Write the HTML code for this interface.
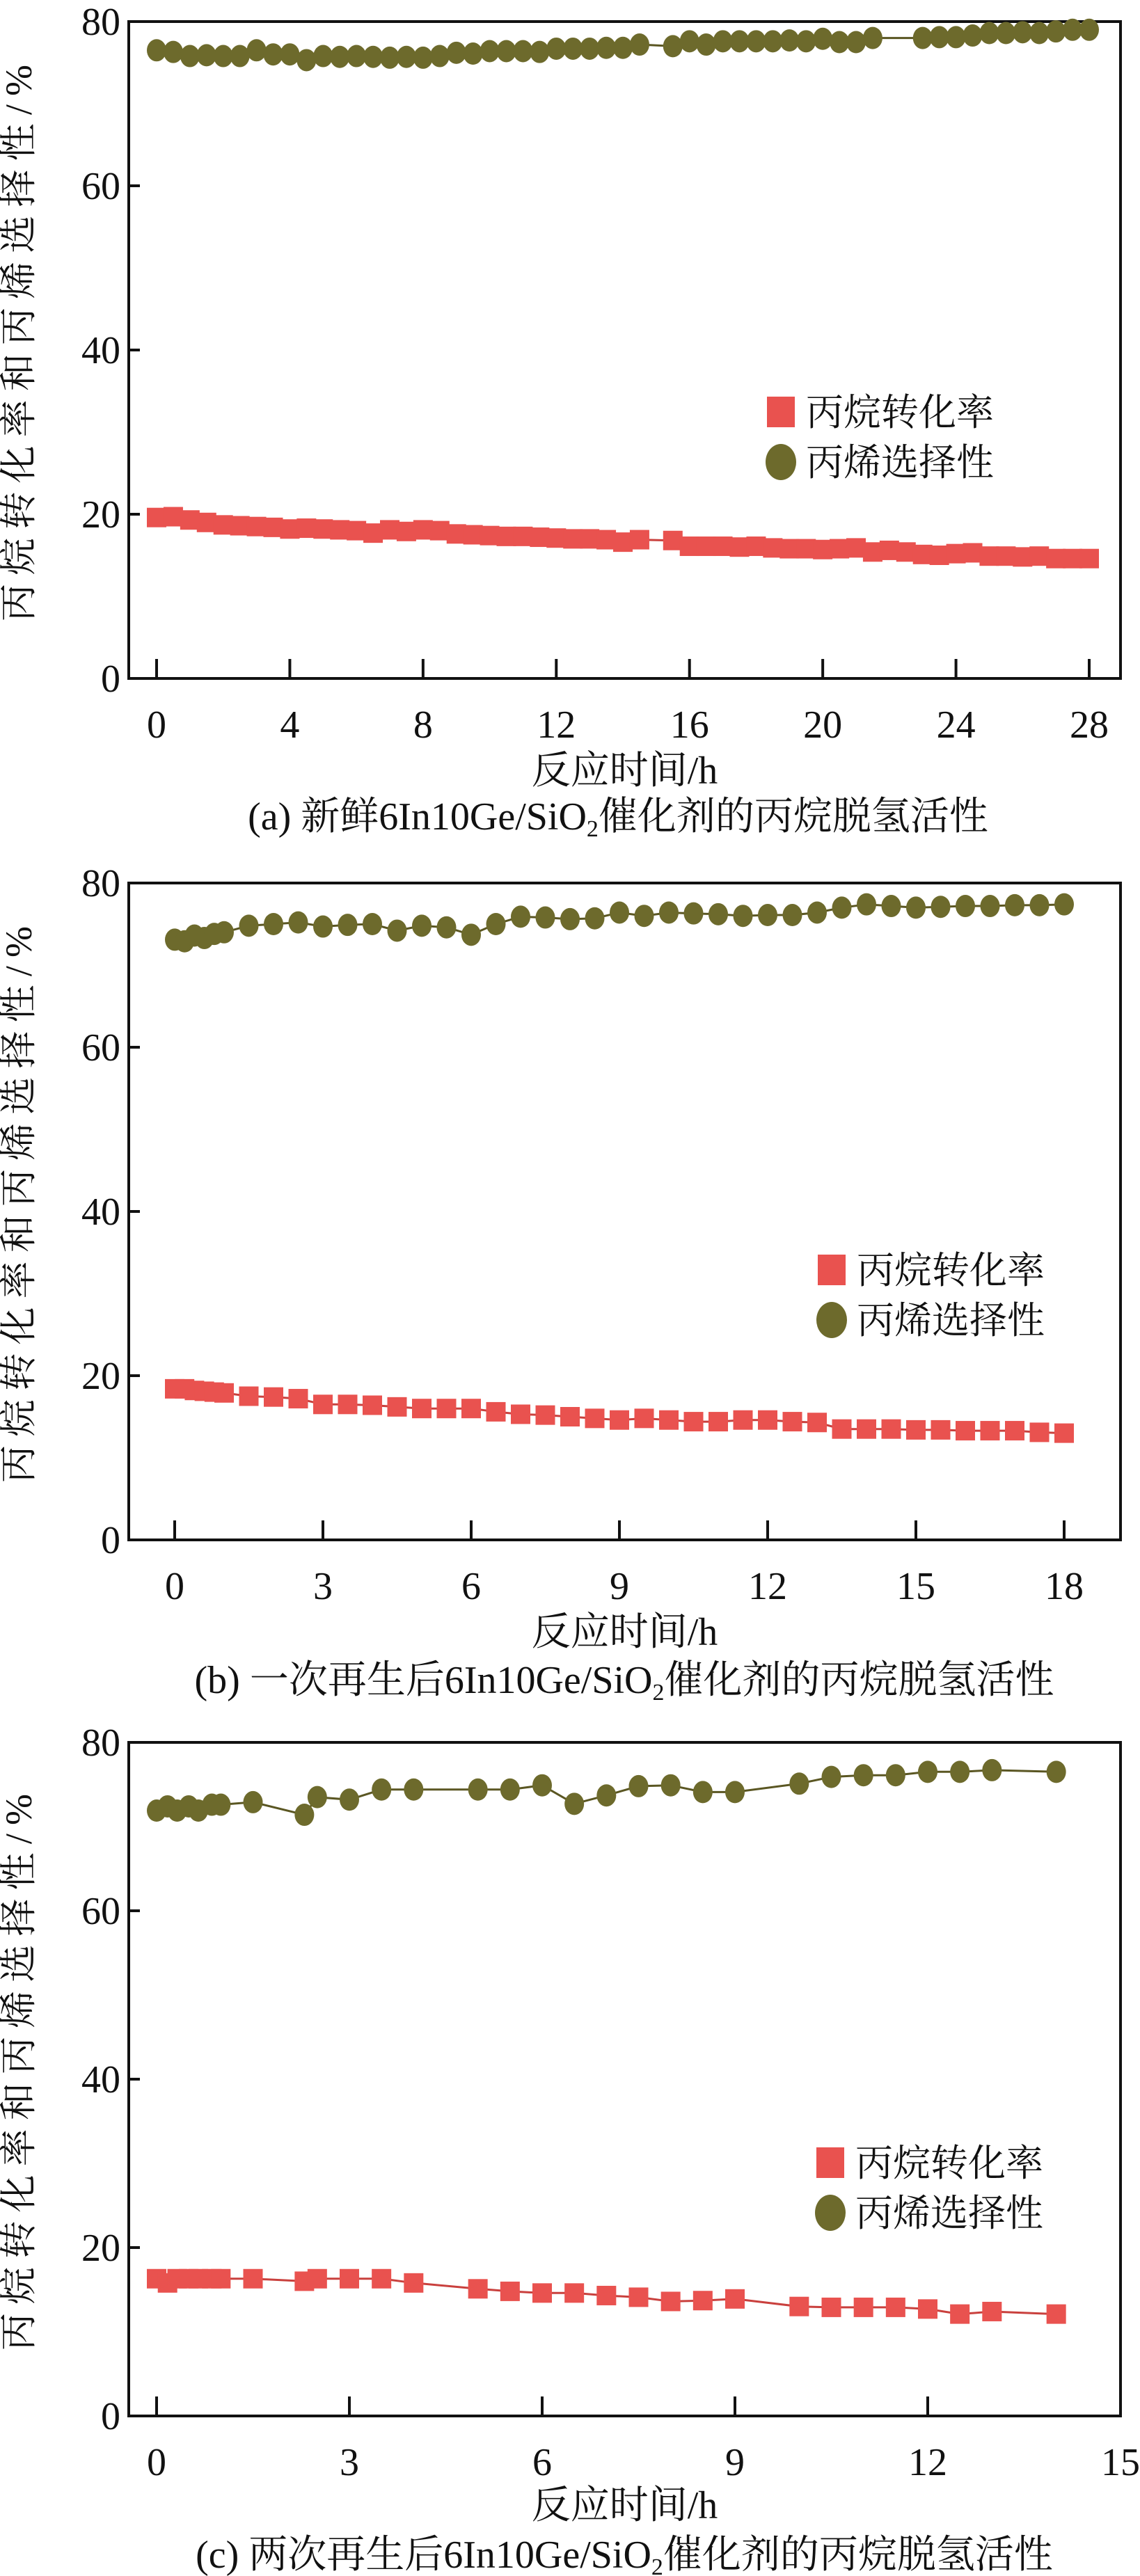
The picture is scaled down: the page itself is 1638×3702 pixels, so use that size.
<!DOCTYPE html>
<html><head><meta charset="utf-8"><style>
html,body{margin:0;padding:0;background:#fff;}
svg{display:block;}
text{font-family:"Liberation Serif","Noto Serif CJK SC",serif;fill:#111;}
</style></head>
<body>
<svg id="fig" width="1638" height="3702" viewBox="0 0 1638 3702" xmlns="http://www.w3.org/2000/svg"></svg>
<script>
// ---- Panel (a) data ----
const aTimeConv = [0,0.5,1,1.5,2,2.5,3,3.5,4,4.5,5,5.5,6,6.5,7,7.5,8,8.5,9,9.5,10,10.5,11,11.5,12,12.5,13,13.5,14,14.5,15.5,16,16.5,17,17.5,18,18.5,19,19.5,20,20.5,21,21.5,22,22.5,23,23.5,24,24.5,25,25.5,26,26.5,27,27.5,28];
const aConv = [19.6,19.7,19.3,19.0,18.7,18.6,18.5,18.4,18.2,18.3,18.2,18.1,18.0,17.7,18.1,17.9,18.1,18.0,17.6,17.5,17.4,17.3,17.3,17.2,17.1,17.0,17.0,16.9,16.6,16.9,16.8,16.1,16.1,16.1,16.0,16.1,15.9,15.8,15.8,15.7,15.8,15.9,15.4,15.6,15.4,15.1,15.0,15.2,15.3,14.9,14.9,14.8,14.9,14.6,14.6,14.6];
const aTimeSel = [0,0.5,1,1.5,2,2.5,3,3.5,4,4.5,5,5.5,6,6.5,7,7.5,8,8.5,9,9.5,10,10.5,11,11.5,12,12.5,13,13.5,14,14.5,15.5,16,16.5,17,17.5,18,18.5,19,19.5,20,20.5,21,21.5,23,23.5,24,24.5,25,25.5,26,26.5,27,27.5,28];
const aSel = [76.5,76.3,75.8,75.9,75.8,75.8,76.5,76.0,76.0,75.3,75.8,75.7,75.8,75.7,75.6,75.7,75.6,75.8,76.2,76.1,76.4,76.4,76.4,76.3,76.7,76.7,76.7,76.8,76.8,77.2,77.0,77.6,77.2,77.6,77.6,77.6,77.6,77.7,77.6,77.9,77.5,77.5,78.0,78.0,78.1,78.1,78.3,78.6,78.6,78.7,78.6,78.8,79.0,79.0];
const aXTicks = [0,4,8,12,16,20,24,28];
// ---- Panel (b) data ----
const bTime = [0,0.2,0.4,0.6,0.8,1,1.5,2,2.5,3,3.5,4,4.5,5,5.5,6,6.5,7,7.5,8,8.5,9,9.5,10,10.5,11,11.5,12,12.5,13,13.5,14,14.5,15,15.5,16,16.5,17,17.5,18];
const bConv = [18.4,18.4,18.2,18.1,18.0,17.9,17.5,17.4,17.2,16.5,16.5,16.4,16.2,16.0,16.0,16.0,15.6,15.3,15.2,15.0,14.8,14.6,14.8,14.6,14.4,14.4,14.6,14.6,14.4,14.3,13.5,13.5,13.5,13.4,13.4,13.3,13.3,13.3,13.1,13.0];
const bSel = [73.1,72.9,73.6,73.3,73.8,74.0,74.8,75.0,75.2,74.7,74.9,75.0,74.2,74.8,74.6,73.7,75.0,75.9,75.8,75.6,75.7,76.4,76.0,76.4,76.3,76.2,76.0,76.1,76.1,76.4,77.0,77.4,77.2,77.0,77.1,77.2,77.2,77.3,77.3,77.4];
const bXTicks = [0,3,6,9,12,15,18];
// ---- Panel (c) data ----
const cTime = [0,0.17,0.32,0.5,0.65,0.86,1.0,1.5,2.3,2.5,3,3.5,4,5,5.5,6,6.5,7,7.5,8,8.5,9,10,10.5,11,11.5,12,12.5,13,14];
const cConv = [16.3,15.8,16.3,16.3,16.3,16.3,16.3,16.3,16.0,16.3,16.3,16.3,15.8,15.1,14.8,14.6,14.6,14.3,14.1,13.6,13.7,13.9,13.0,12.9,12.9,12.9,12.7,12.1,12.4,12.1];
const cSel = [71.9,72.4,71.9,72.4,71.9,72.6,72.6,72.9,71.4,73.5,73.2,74.4,74.4,74.4,74.4,74.9,72.7,73.7,74.8,74.9,74.1,74.1,75.1,75.9,76.1,76.1,76.5,76.5,76.7,76.5];
const cXTicks = [0,3,6,9,12,15];
const yTicks = [0,20,40,60,80];

const NS = "http://www.w3.org/2000/svg";
const svg = document.getElementById("fig");
function mk(tag, attrs, parent){
  const e = document.createElementNS(NS, tag);
  for (const k in attrs) e.setAttribute(k, attrs[k]);
  (parent||svg).appendChild(e);
  return e;
}
const RED = "#e9524f", REDLINE = "#c9403d", OLIVE = "#6d6a2c", OLIVELINE = "#5a5622";

function panel(p){
  const g = mk("g", {});
  
  
  const X = v => p.x0 + (v - p.xmin) / (p.xmax - p.xmin) * (p.x1 - p.x0);
  const Y = v => p.bottom - v / 80 * (p.bottom - p.top);
  const box = mk("rect", {x:p.left, y:p.top, width:p.right-p.left, height:p.bottom-p.top, fill:"none", stroke:"#111", "stroke-width":4}, g);
  
  
  yTicks.forEach(t => {
    const tk = mk("line", {x1:p.left, x2:p.left+16, y1:Y(t), y2:Y(t), stroke:"#111", "stroke-width":4}, g);
    
    
    const lb = mk("text", {x:p.left-12, y:Y(t)+19, "text-anchor":"end", "font-size":56}, g);
    lb.textContent = t;
    
    
  });
  p.xticks.forEach(t => {
    const tk = mk("line", {x1:X(t), x2:X(t), y1:p.bottom, y2:p.bottom-28, stroke:"#111", "stroke-width":4}, g);
    
    
    const lb = mk("text", {x:X(t), y:p.tickY, "text-anchor":"middle", "font-size":56}, g);
    lb.textContent = t;
    
    
  });
  const yc = (p.top + p.bottom) / 2 - 10;
  const yt = mk("text", {x:0, y:0, transform:`translate(${p.left-140},${yc}) rotate(-90)`, "text-anchor":"middle", "font-size":54, textLength:800, lengthAdjust:"spacing"}, g);
  yt.textContent = "丙烷转化率和丙烯选择性/%";
  
  
  const xt = mk("text", {x:(p.left+p.right)/2, y:p.titleY, "text-anchor":"middle", "font-size":56}, g);
  xt.textContent = "反应时间/h";
  
  
  const cap = mk("text", {x:p.capX, y:p.capY, "text-anchor":"middle", "font-size":56}, g);
  
  
  const t1 = mk("tspan", {}, cap); t1.textContent = p.capPre + "6In10Ge/SiO";
  const t2 = mk("tspan", {"font-size":34, dy:10}, cap); t2.textContent = "2";
  const t3 = mk("tspan", {dy:-10}, cap); t3.textContent = "催化剂的丙烷脱氢活性";
  function series(tx, vals, kind, name){
    const sg = mk("g", {}, g);
    
    
    const pts = tx.map((t,i) => X(t).toFixed(1) + "," + Y(vals[i]).toFixed(1)).join(" ");
    const ln = mk("polyline", {points:pts, fill:"none", stroke: kind==="sq"?REDLINE:OLIVELINE, "stroke-width":3}, sg);
    
    
    tx.forEach((t,i) => {
      let m;
      if (kind === "sq") m = mk("rect", {x:X(t)-14, y:Y(vals[i])-14, width:28, height:28, fill:RED}, sg);
      else m = mk("ellipse", {cx:X(t), cy:Y(vals[i]), rx:14, ry:16, fill:OLIVE}, sg);
      
      
    });
  }
  series(p.tc, p.conv, "sq", "conversion-series");
  series(p.ts, p.sel, "ci", "selectivity-series");
  const lg = mk("g", {}, g);
  
  
  const ls = mk("rect", {x:p.legX-20, y:p.legY-22, width:40, height:44, fill:RED}, lg);
  
  
  const lt1 = mk("text", {x:p.legX+36, y:p.legY+19, "font-size":54}, lg);
  lt1.textContent = "丙烷转化率";
  
  
  const lc = mk("ellipse", {cx:p.legX, cy:p.legY+72, rx:22, ry:26, fill:OLIVE}, lg);
  
  
  const lt2 = mk("text", {x:p.legX+36, y:p.legY+91, "font-size":54}, lg);
  lt2.textContent = "丙烯选择性";
  
  
}

panel({id:"a", left:185, right:1610, top:31, bottom:975, x0:225, x1:1565, xmin:0, xmax:28, xticks:aXTicks,
  tickY:1060, titleY:1126, capY:1192, capX:888, capPre:"(a) 新鲜",
  tc:aTimeConv, conv:aConv, ts:aTimeSel, sel:aSel, legX:1122, legY:592});
panel({id:"b", left:185, right:1610, top:1269, bottom:2213, x0:251, x1:1529, xmin:0, xmax:18, xticks:bXTicks,
  tickY:2298, titleY:2364, capY:2433, capX:897, capPre:"(b) 一次再生后",
  tc:bTime, conv:bConv, ts:bTime, sel:bSel, legX:1195, legY:1825});
panel({id:"c", left:185, right:1610, top:2504, bottom:3472, x0:225, x1:1610, xmin:0, xmax:15, xticks:cXTicks,
  tickY:3557, titleY:3619, capY:3690, capX:897, capPre:"(c) 两次再生后",
  tc:cTime, conv:cConv, ts:cTime, sel:cSel, legX:1193, legY:3108});
</script>
</body></html>
